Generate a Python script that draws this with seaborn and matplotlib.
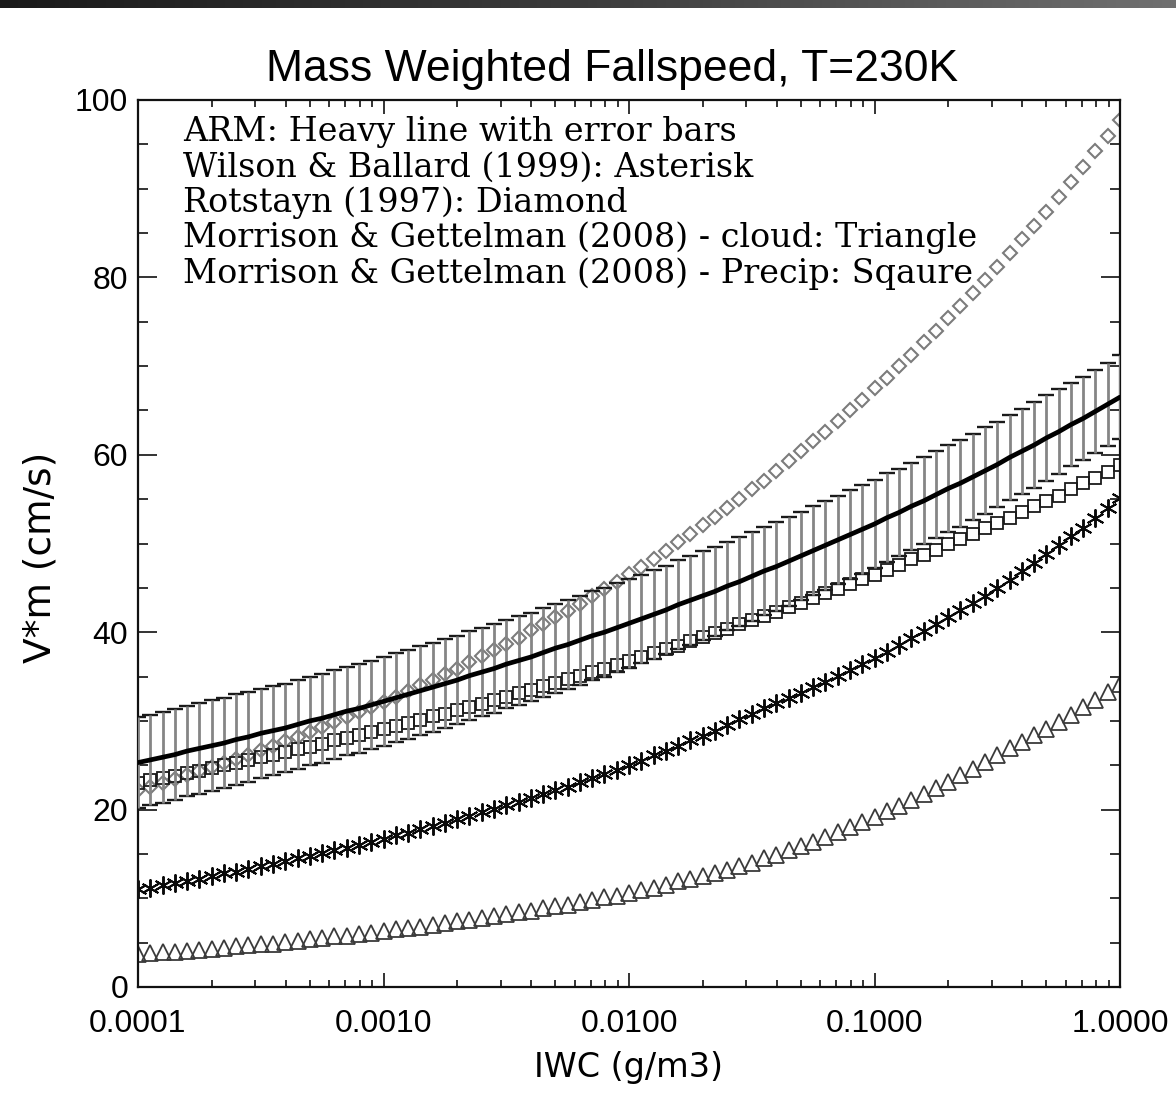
import numpy as np
import pandas as pd
import matplotlib
matplotlib.use("Agg")
import matplotlib.pyplot as plt
import seaborn as sns
from matplotlib.ticker import LogLocator, MultipleLocator, NullFormatter
from matplotlib.colors import LinearSegmentedColormap

# ---------------- data ----------------
LOG_IWC = [
    -4.00, -3.95, -3.90, -3.85, -3.80, -3.75, -3.70, -3.65, -3.60, -3.55,
    -3.50, -3.45, -3.40, -3.35, -3.30, -3.25, -3.20, -3.15, -3.10, -3.05,
    -3.00, -2.95, -2.90, -2.85, -2.80, -2.75, -2.70, -2.65, -2.60, -2.55,
    -2.50, -2.45, -2.40, -2.35, -2.30, -2.25, -2.20, -2.15, -2.10, -2.05,
    -2.00, -1.95, -1.90, -1.85, -1.80, -1.75, -1.70, -1.65, -1.60, -1.55,
    -1.50, -1.45, -1.40, -1.35, -1.30, -1.25, -1.20, -1.15, -1.10, -1.05,
    -1.00, -0.95, -0.90, -0.85, -0.80, -0.75, -0.70, -0.65, -0.60, -0.55,
    -0.50, -0.45, -0.40, -0.35, -0.30, -0.25, -0.20, -0.15, -0.10, -0.05,
    0.00,
]

ARM = [
    25.3, 25.6, 25.9, 26.2, 26.6, 26.9, 27.2, 27.5, 27.9, 28.2,
    28.6, 28.9, 29.2, 29.6, 30.0, 30.3, 30.7, 31.1, 31.4, 31.8,
    32.2, 32.6, 33.0, 33.4, 33.8, 34.2, 34.6, 35.1, 35.5, 35.9,
    36.4, 36.8, 37.2, 37.7, 38.2, 38.6, 39.1, 39.6, 40.0, 40.5,
    41.0, 41.5, 42.0, 42.5, 43.1, 43.6, 44.1, 44.6, 45.2, 45.7,
    46.3, 46.9, 47.4, 48.0, 48.6, 49.2, 49.8, 50.4, 51.0, 51.6,
    52.2, 52.9, 53.5, 54.2, 54.8, 55.5, 56.2, 56.8, 57.5, 58.2,
    58.9, 59.7, 60.4, 61.1, 61.9, 62.6, 63.4, 64.1, 64.9, 65.7,
    66.5,
]

ARM_ERR = [
    5.1, 5.1, 5.1, 5.1, 5.1, 5.1, 5.1, 5.1, 5.1, 5.1,
    5.0, 5.0, 5.0, 5.0, 5.0, 5.0, 5.0, 5.0, 5.0, 5.0,
    5.0, 5.0, 5.0, 5.0, 5.0, 5.0, 5.0, 5.0, 5.0, 5.0,
    5.0, 5.0, 5.0, 5.0, 5.0, 5.0, 5.0, 5.0, 5.0, 5.0,
    5.0, 5.0, 5.0, 5.0, 5.0, 5.0, 5.0, 5.0, 5.0, 5.0,
    5.0, 5.0, 5.0, 5.0, 5.0, 5.0, 5.0, 5.0, 5.0, 5.0,
    5.0, 5.0, 4.9, 4.9, 4.9, 4.9, 4.9, 4.9, 4.9, 4.9,
    4.8, 4.8, 4.8, 4.8, 4.8, 4.8, 4.7, 4.7, 4.7, 4.7,
    4.7,
]

WILSON_BALLARD = [
    11.0, 11.2, 11.5, 11.7, 12.0, 12.2, 12.5, 12.8, 13.0, 13.3,
    13.6, 13.9, 14.2, 14.5, 14.8, 15.1, 15.4, 15.7, 16.0, 16.4,
    16.7, 17.1, 17.4, 17.8, 18.1, 18.5, 18.9, 19.3, 19.7, 20.1,
    20.5, 20.9, 21.3, 21.8, 22.2, 22.6, 23.1, 23.6, 24.0, 24.5,
    25.0, 25.5, 26.1, 26.6, 27.2, 27.8, 28.3, 28.9, 29.5, 30.2,
    30.8, 31.4, 32.0, 32.6, 33.2, 33.8, 34.4, 35.1, 35.7, 36.4,
    37.1, 37.8, 38.6, 39.3, 40.1, 40.9, 41.7, 42.5, 43.3, 44.1,
    45.0, 45.9, 46.9, 47.8, 48.8, 49.8, 50.8, 51.8, 52.9, 54.0,
    55.1,
]

ROTSTAYN = [
    22.2, 22.6, 23.0, 23.5, 23.9, 24.4, 24.8, 25.3, 25.7, 26.2,
    26.7, 27.2, 27.7, 28.2, 28.8, 29.3, 29.9, 30.4, 31.0, 31.6,
    32.1, 32.7, 33.4, 34.0, 34.6, 35.3, 35.9, 36.6, 37.3, 38.0,
    38.7, 39.4, 40.2, 40.9, 41.7, 42.4, 43.2, 44.1, 44.9, 45.7,
    46.6, 47.4, 48.3, 49.2, 50.2, 51.1, 52.1, 53.0, 54.0, 55.0,
    56.1, 57.1, 58.2, 59.3, 60.4, 61.5, 62.6, 63.8, 65.0, 66.2,
    67.5, 68.7, 70.0, 71.3, 72.7, 74.0, 75.4, 76.8, 78.2, 79.7,
    81.2, 82.7, 84.3, 85.8, 87.4, 89.1, 90.7, 92.4, 94.2, 95.9,
    97.7,
]

MG_CLOUD = [
    3.7, 3.8, 3.9, 4.0, 4.1, 4.2, 4.3, 4.4, 4.6, 4.7,
    4.8, 4.9, 5.1, 5.2, 5.4, 5.5, 5.7, 5.8, 6.0, 6.1,
    6.3, 6.5, 6.6, 6.8, 7.0, 7.2, 7.4, 7.6, 7.8, 8.0,
    8.2, 8.4, 8.6, 8.9, 9.1, 9.3, 9.6, 9.8, 10.1, 10.3,
    10.6, 10.9, 11.2, 11.5, 11.9, 12.2, 12.5, 12.9, 13.2, 13.6,
    14.0, 14.5, 14.9, 15.4, 15.9, 16.4, 16.9, 17.5, 18.0, 18.6,
    19.2, 19.8, 20.4, 21.1, 21.8, 22.4, 23.1, 23.9, 24.6, 25.4,
    26.2, 26.9, 27.6, 28.4, 29.1, 29.9, 30.7, 31.6, 32.4, 33.3,
    34.2,
]

MG_PRECIP = [
    23.0, 23.3, 23.6, 23.8, 24.1, 24.4, 24.7, 25.0, 25.3, 25.6,
    25.9, 26.2, 26.5, 26.8, 27.1, 27.4, 27.8, 28.1, 28.4, 28.7,
    29.1, 29.4, 29.8, 30.1, 30.5, 30.8, 31.2, 31.6, 31.9, 32.3,
    32.7, 33.1, 33.5, 33.9, 34.3, 34.7, 35.1, 35.5, 35.9, 36.3,
    36.8, 37.2, 37.7, 38.1, 38.5, 39.0, 39.5, 39.9, 40.4, 40.9,
    41.4, 41.8, 42.3, 42.8, 43.3, 43.9, 44.4, 44.9, 45.4, 46.0,
    46.5, 47.0, 47.6, 48.2, 48.7, 49.3, 49.9, 50.5, 51.1, 51.7,
    52.3, 52.9, 53.5, 54.2, 54.8, 55.4, 56.1, 56.8, 57.4, 58.1,
    58.8,
]

X_TICKS = [0.0001, 0.001, 0.01, 0.1, 1.0]
X_TICK_LABELS = ["0.0001", "0.0010", "0.0100", "0.1000", "1.0000"]
Y_TICKS = [0, 20, 40, 60, 80, 100]
Y_TICK_LABELS = ["0", "20", "40", "60", "80", "100"]

TITLE = "Mass Weighted Fallspeed, T=230K"
X_LABEL = "IWC (g/m3)"
Y_LABEL = "V*m (cm/s)"
NOTES = [
    "ARM: Heavy line with error bars",
    "Wilson & Ballard (1999): Asterisk",
    "Rotstayn (1997): Diamond",
    "Morrison & Gettelman (2008) - cloud: Triangle",
    "Morrison & Gettelman (2008) - Precip: Sqaure",
]

# ---------------- figure ----------------
sns.set_theme(style="ticks")
plt.rcParams["font.family"] = ["Liberation Sans", "DejaVu Sans"]

W, H = 1176, 1120
fig = plt.figure(figsize=(W / 100, H / 100), dpi=100)
fig.patch.set_facecolor("white")

# dark gradient strip at the top of the image
bar = fig.add_axes([0, 1 - 8 / H, 1, 8 / H])
cmap = LinearSegmentedColormap.from_list("bar", ["#1a1a1a", "#3c3c3c", "#707070"])
bar.imshow(np.linspace(0, 1, 256)[None, :], aspect="auto", cmap=cmap)
bar.set_axis_off()

L, R, T, B = 138, 1120, 100, 987
ax = fig.add_axes([L / W, 1 - B / H, (R - L) / W, (B - T) / H])
ax.set_facecolor("white")

df = pd.DataFrame({
    "iwc": 10.0 ** np.array(LOG_IWC),
    "arm": ARM,
    "err": ARM_ERR,
    "wb": WILSON_BALLARD,
    "rot": ROTSTAYN,
    "mgc": MG_CLOUD,
    "mgp": MG_PRECIP,
})
df["top"] = df["arm"] + df["err"]
df["bot"] = df["arm"] - df["err"]

common = dict(data=df, x="iwc", ax=ax, estimator=None, sort=False, linestyle="")

# Rotstayn: gray diamonds
sns.lineplot(y="rot", marker="D", markersize=7, markerfacecolor="none",
             markeredgecolor="#7c7c7c", markeredgewidth=1.5, color="#7c7c7c", **common)
# M&G precip: open squares
sns.lineplot(y="mgp", marker="s", markersize=8.5, markerfacecolor="none",
             markeredgecolor="#1a1a1a", markeredgewidth=1.3, color="#1a1a1a", **common)
# ARM error bars
ax.errorbar(df["iwc"], df["arm"], yerr=df["err"], fmt="none",
            ecolor="#858585", elinewidth=2.0, capsize=0, zorder=3)
sns.lineplot(y="top", marker="_", markersize=11, markeredgewidth=1.7,
             markeredgecolor="#1a1a1a", color="#1a1a1a", **common)
sns.lineplot(y="bot", marker="_", markersize=11, markeredgewidth=1.7,
             markeredgecolor="#1a1a1a", color="#1a1a1a", **common)
# M&G cloud: open triangles
sns.lineplot(y="mgc", marker="^", markersize=12, markerfacecolor="none",
             markeredgecolor="#3a3a3a", markeredgewidth=1.3, color="#3a3a3a", **common)
# Wilson & Ballard: asterisks
sns.lineplot(y="wb", marker=(6, 2, 0), markersize=13, markeredgewidth=1.4,
             markeredgecolor="#0a0a0a", color="#0a0a0a", **common)
# ARM heavy line
sns.lineplot(data=df, x="iwc", y="arm", ax=ax, estimator=None, sort=False,
             color="black", linewidth=3.4, zorder=6)

ax.set_xscale("log")
ax.set_xlim(1e-4, 1.0)
ax.set_ylim(0, 100)

ax.set_xticks(X_TICKS, labels=X_TICK_LABELS)
ax.xaxis.set_minor_locator(LogLocator(base=10, subs=np.arange(2, 10)))
ax.xaxis.set_minor_formatter(NullFormatter())
ax.set_yticks(Y_TICKS, labels=Y_TICK_LABELS)
ax.yaxis.set_minor_locator(MultipleLocator(5))

ax.tick_params(axis="both", which="both", direction="in", top=True, right=True,
               color="#111111", width=1.2, labelcolor="black")
ax.tick_params(axis="x", which="major", length=10, pad=16, labelsize=23)
ax.tick_params(axis="x", which="minor", length=5)
ax.tick_params(axis="y", which="major", length=14, pad=7, labelsize=23)
ax.tick_params(axis="y", which="minor", length=7)
for s in ax.spines.values():
    s.set_linewidth(1.6)
    s.set_color("#111111")

ax.set_xlabel("")
ax.set_ylabel("")
fig.text(629 / W, 1 - 1068 / H, X_LABEL, ha="center", va="center", fontsize=24,
         family=["DejaVu Sans"], color="black")
fig.text(40 / W, 1 - 557 / H, Y_LABEL, ha="center", va="center", fontsize=27,
         rotation=90, family=["DejaVu Sans"], color="black")
fig.text(612 / W, 1 - 70 / H, TITLE, ha="center", va="center", fontsize=32,
         family=["Liberation Sans Narrow", "Liberation Sans", "DejaVu Sans"],
         color="black")

for i, line in enumerate(NOTES):
    fig.text(183 / W, 1 - (132 + 35.3 * i) / H, line, ha="left", va="center",
             fontsize=24, family=["DejaVu Serif"], color="black")

fig.savefig("out.png", dpi=100)
